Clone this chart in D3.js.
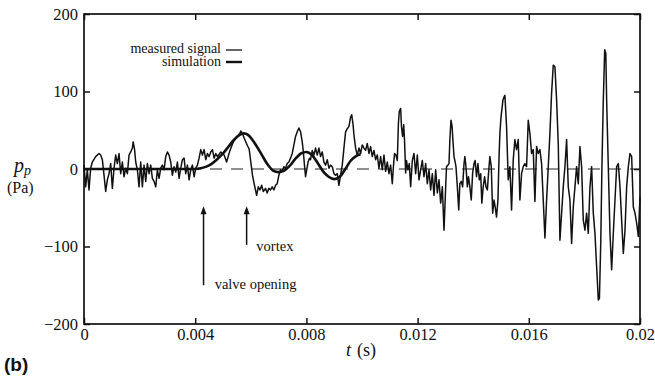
<!DOCTYPE html>
<html>
<head>
<meta charset="utf-8">
<script src="https://cdn.jsdelivr.net/npm/d3@7"></script>
<style>
  body { margin: 0; background: #fff; }
  svg text { font-family: "Liberation Serif", "Times New Roman", serif; fill: #111; }
  .tick line { stroke: #111; stroke-width: 1.5; }
</style>
</head>
<body>
<div id="chart"></div>
<script>
var svgWidth = 655;
var svgHeight = 377;
var serif = "Liberation Serif, Times New Roman, serif";

var margin = { top: 14, right: 15, bottom: 53, left: 84 };
var width = svgWidth - margin.left - margin.right;
var height = svgHeight - margin.top - margin.bottom;

// time in ms, pressure in Pa
var measuredTime = [0, 0.06, 0.12, 0.18, 0.24, 0.30, 0.42, 0.54, 0.60, 0.66, 0.72, 0.78, 0.84, 0.90, 0.96, 1.02, 1.08, 1.14, 1.20, 1.26, 1.32, 1.38, 1.44, 1.50, 1.56, 1.62, 1.68, 1.74, 1.77, 1.82, 1.86, 1.92, 1.98, 2.04, 2.10, 2.16, 2.22, 2.28, 2.34, 2.40, 2.46, 2.52, 2.58, 2.64, 2.70, 2.76, 2.82, 2.88, 2.94, 3.00, 3.06, 3.12, 3.18, 3.24, 3.30, 3.36, 3.42, 3.48, 3.54, 3.60, 3.66, 3.72, 3.78, 3.84, 3.90, 3.96, 4.02, 4.08, 4.14, 4.20, 4.26, 4.32, 4.38, 4.44, 4.50, 4.56, 4.62, 4.68, 4.74, 4.80, 4.92, 5.04, 5.13, 5.25, 5.37, 5.49, 5.61,
  5.64, 5.70, 5.76, 5.88, 5.94, 6.00, 6.06, 6.12, 6.18, 6.21, 6.27, 6.33, 6.39, 6.45, 6.53, 6.59, 6.65, 6.71, 6.77, 6.83, 6.89, 6.95, 7.01, 7.07, 7.13, 7.19, 7.25, 7.31, 7.37, 7.43, 7.49, 7.55, 7.61, 7.67, 7.73, 7.79, 7.85, 7.89, 7.94, 7.97, 8.01, 8.06, 8.11, 8.15, 8.21, 8.27, 8.33, 8.39, 8.45, 8.51, 8.57, 8.63, 8.69, 8.75, 8.81, 8.87, 8.93, 8.99, 9.05, 9.11, 9.17, 9.23, 9.29, 9.35, 9.41, 9.47, 9.53, 9.59, 9.63, 9.68, 9.71, 9.77, 9.83, 9.89, 9.95, 10.01, 10.07,
  10.13, 10.19, 10.25, 10.31, 10.37, 10.43, 10.49, 10.55, 10.61, 10.67, 10.73, 10.79, 10.85, 10.91, 10.97, 11.03, 11.09, 11.13, 11.17, 11.22, 11.27, 11.31, 11.34, 11.39, 11.42, 11.46, 11.50, 11.53, 11.57, 11.60, 11.65, 11.70, 11.75, 11.81, 11.87, 11.93, 11.99, 12.05, 12.11, 12.17, 12.23, 12.29, 12.35, 12.41, 12.47, 12.53, 12.59, 12.65, 12.71, 12.77, 12.83, 12.89, 12.95, 13.01, 13.04, 13.09, 13.13, 13.16, 13.20, 13.24, 13.27, 13.31, 13.34, 13.38, 13.43, 13.48, 13.52, 13.57, 13.62, 13.67, 13.70, 13.74, 13.79, 13.83, 13.88, 13.93, 13.98, 14.03, 14.07, 14.12, 14.17, 14.22, 14.27, 14.31, 14.36, 14.41, 14.46, 14.51, 14.55, 14.60, 14.65, 14.70, 14.75, 14.79, 14.84, 14.89, 14.93, 14.96, 15.00, 15.03, 15.07, 15.11,
  15.14, 15.20, 15.26, 15.32, 15.38, 15.44, 15.50, 15.56, 15.62, 15.68, 15.74, 15.80, 15.86, 15.92, 15.98, 16.04, 16.10, 16.16, 16.22, 16.28, 16.34, 16.40, 16.46, 16.52, 16.58, 16.64, 16.70, 16.76, 16.82, 16.88, 16.94, 17.00, 17.06, 17.12, 17.18, 17.24, 17.30, 17.36, 17.42, 17.48, 17.54, 17.60, 17.66, 17.72, 17.78, 17.84, 17.90, 17.96, 18.02, 18.08, 18.14, 18.20, 18.26, 18.32, 18.38, 18.44, 18.50, 18.54, 18.59, 18.63, 18.68, 18.73, 18.77, 18.80, 18.86, 18.92, 18.98, 19.04, 19.10, 19.16, 19.22, 19.28, 19.34, 19.40, 19.46, 19.52, 19.58, 19.64, 19.70, 19.76, 19.82, 19.88, 19.94, 20.00];

var measuredPressure = [5, -23, -1, -27, 1, 9, 16, 20, 18, 12, -8, -29, -14, -6, 7, -25, 1, 18, 7, 20, -6, 9, -10, 1, -6, 18, 22, 27, 35, 25, 9, -1, -23, 9, -23, 5, -16, 7, -6, 5, -12, -16, -23, -1, -12, 1, 5, -1, 16, 22, 18, 9, -8, 3, -4, 9, -12, 1, 12, 14, -6, 5, -14, -1, 5, -10, 1, 5, 14, 25, 18, 25, 12, 20, 16, 22, 25, 14, 20, 16, 22, 18, 9, 24, 35, 41, 46,
  49, 46, 40, 30, 26, 9, -8, -19, -29, -34, -23, -27, -21, -29, -25, -31, -25, -27, -23, -27, -21, -19, -8, -1, -3, 3, 1, 7, 9, 14, 20, 31, 42, 48, 53, 48, 35, 22, 1, -10, -1, 9, 14, 12, 24, 18, 27, 18, 27, 16, 22, 9, 5, 12, 1, 5, 3, -6, -8, -6, -21, -8, 5, 27, 48, 52, 55, 67, 70, 57, 44, 27, 18, 27, 20, 31, 27,
  24, 33, 20, 29, 16, 24, 12, 18, 1, 16, -1, 18, -3, 9, -6, 5, -19, 3, 20, 18, 11, 59, 74, 78, 55, 42, 57, 37, -5, 11, -1, 7, -23, 11, 20, -6, 18, -14, -1, 11, -10, 7, -19, -1, -27, -6, -34, -1, -31, -14, -44, -23, -79, -23, 3, 5, 7, 37, 63, 55, 37, 16, 11, 3, -23, -53, -19, -16, -23, 7, 16, 3, -23, -10, -23, -40, -5, 7, 11, -10, 7, -14, -6, -44, -23, -10, -23, -27, -6, 16, 3, -57, -40, -49, -62, -40, 16, 46, 67, 76, 89, 93,
  95, 55, -14, 3, -53, 12, 38, 25, 38, -40, -6, 3, 7, 3, 63, 46, 20, 25, -42, 29, 20, 25, 7, -40, -89, -40, 3, 46, 98, 134, 132, 89, 33, -92, -57, -23, 3, 38, -23, -40, -96, -49, -23, 3, -19, 29, 3, -66, -79, -57, -83, -23, 3, -57, -83, -126, -169, -167, -92, 3, 89, 154, 149, 89, 3, -83, -130, -83, -40, 3, 7, -23, -66, -109, -79, -23, 3, 20, 16, -49, -57, -70, -87, -36];

var simulationTime = [0, 4.0, 4.2, 4.4, 4.6, 4.8, 5.0, 5.2, 5.4, 5.6, 5.75, 5.9, 6.05, 6.2, 6.4, 6.6, 6.8, 7.0, 7.2, 7.4, 7.6, 7.8, 8.0, 8.2, 8.4, 8.6, 8.8, 9.0, 9.2, 9.4, 9.6, 9.8, 9.95];
var simulationPressure = [0, 0, 1, 3, 7, 13, 20, 29, 38, 44, 46, 44, 38, 30, 18, 6, -2, -4, -2, 4, 13, 20, 22, 18, 8, -3, -10, -13, -10, 0, 11, 17, 19];

var xTickValues = [0, 4, 8, 12, 16, 20];
var xTickLabels = ["0", "0.004", "0.008", "0.012", "0.016", "0.02"];
var yTickValues = [-200, -100, 0, 100, 200];

var measured = measuredTime.map((t, i) => ({ t: t, p: measuredPressure[i] }));
var simulation = simulationTime.map((t, i) => ({ t: t, p: simulationPressure[i] }));

var svg = d3.select("#chart")
  .append("svg")
  .attr("width", svgWidth)
  .attr("height", svgHeight);

var chartGroup = svg.append("g")
  .attr("transform", `translate(${margin.left}, ${margin.top})`);

var xScale = d3.scaleLinear().domain([0, 20]).range([0, width]);
var yScale = d3.scaleLinear().domain([-200, 200]).range([height, 0]);

function styleAxis(g) {
  g.select(".domain").remove();
  g.attr("font-family", serif).attr("font-size", 16.5);
  g.selectAll(".tick text").attr("font-family", serif).attr("font-size", 16.5).attr("fill", "#111");
}

// axes, ticks pointing inward
chartGroup.append("g")
  .attr("transform", `translate(0, ${height})`)
  .call(d3.axisBottom(xScale).tickValues(xTickValues)
    .tickFormat((d, i) => xTickLabels[i])
    .tickSizeInner(-6).tickSizeOuter(0).tickPadding(4))
  .call(styleAxis);

chartGroup.append("g")
  .call(d3.axisTop(xScale).tickValues(xTickValues).tickFormat("")
    .tickSizeInner(-6).tickSizeOuter(0))
  .call(styleAxis);

chartGroup.append("g")
  .call(d3.axisLeft(yScale).tickValues(yTickValues)
    .tickSizeInner(-6).tickSizeOuter(0).tickPadding(6))
  .call(styleAxis);

chartGroup.append("g")
  .attr("transform", `translate(${width}, 0)`)
  .call(d3.axisRight(yScale).tickValues(yTickValues).tickFormat("")
    .tickSizeInner(-6).tickSizeOuter(0))
  .call(styleAxis);

chartGroup.append("rect")
  .attr("width", width)
  .attr("height", height)
  .attr("fill", "none")
  .attr("stroke", "#111")
  .attr("stroke-width", 1.7);

// zero reference
chartGroup.append("line")
  .attr("x1", 0).attr("x2", width)
  .attr("y1", yScale(0)).attr("y2", yScale(0))
  .attr("stroke", "#222")
  .attr("stroke-width", 1.2)
  .attr("stroke-dasharray", "12,9");

var line = d3.line()
  .x(d => xScale(d.t))
  .y(d => yScale(d.p));

chartGroup.append("path")
  .datum(measured)
  .attr("d", line)
  .attr("fill", "none")
  .attr("stroke", "#111")
  .attr("stroke-width", 1.5)
  .attr("stroke-linejoin", "round");

chartGroup.append("path")
  .datum(simulation)
  .attr("d", line.curve(d3.curveMonotoneX))
  .attr("fill", "none")
  .attr("stroke", "#111")
  .attr("stroke-width", 2.6);

// legend
var legend = svg.append("g").attr("font-family", serif);
legend.append("text").attr("x", 221).attr("y", 53)
  .attr("text-anchor", "end").attr("font-size", "14px").text("measured signal");
legend.append("line").attr("x1", 226).attr("x2", 242).attr("y1", 50).attr("y2", 50)
  .attr("stroke", "#111").attr("stroke-width", 1.3);
legend.append("text").attr("x", 221).attr("y", 66)
  .attr("text-anchor", "end").attr("font-size", "14px").text("simulation");
legend.append("line").attr("x1", 226).attr("x2", 242).attr("y1", 62).attr("y2", 62)
  .attr("stroke", "#111").attr("stroke-width", 2.4);

// annotations
var arrows = [
  { t: 4.3, from: -150, to: -48, label: "valve opening", lt: 4.7, lp: -155 },
  { t: 5.85, from: -98, to: -48, label: "vortex", lt: 6.2, lp: -106 }
];
arrows.forEach(function(a) {
  chartGroup.append("line")
    .attr("x1", xScale(a.t)).attr("x2", xScale(a.t))
    .attr("y1", yScale(a.from)).attr("y2", yScale(a.to) + 5)
    .attr("stroke", "#111").attr("stroke-width", 1.5);
  var ax = xScale(a.t), ay = yScale(a.to);
  chartGroup.append("path")
    .attr("d", `M${ax},${ay} L${ax - 3},${ay + 8} L${ax + 3},${ay + 8} Z`)
    .attr("fill", "#111");
  chartGroup.append("text")
    .attr("x", xScale(a.lt)).attr("y", yScale(a.lp))
    .attr("font-family", serif)
    .attr("font-size", "14.5px")
    .text(a.label);
});

// axis titles
var yTitle = svg.append("text").attr("x", 14).attr("y", 172)
  .attr("font-family", serif).attr("font-size", "20px");
yTitle.append("tspan").attr("font-style", "italic").text("p");
yTitle.append("tspan").attr("font-style", "italic").attr("font-size", "14px").attr("dy", 3).text("p");
svg.append("text").attr("x", 7).attr("y", 193)
  .attr("font-family", serif).attr("font-size", "16px").text("(Pa)");

var xTitle = svg.append("text").attr("x", 346).attr("y", 356)
  .attr("font-family", serif).attr("font-size", "18px");
xTitle.append("tspan").attr("font-style", "italic").text("t");
xTitle.append("tspan").attr("dx", 6).text("(s)");

svg.append("text")
  .attr("x", 4).attr("y", 371)
  .attr("font-weight", "bold")
  .attr("font-size", "19px")
  .style("font-family", "'Liberation Sans', Arial, sans-serif")
  .text("(b)");
</script>
</body>
</html>
